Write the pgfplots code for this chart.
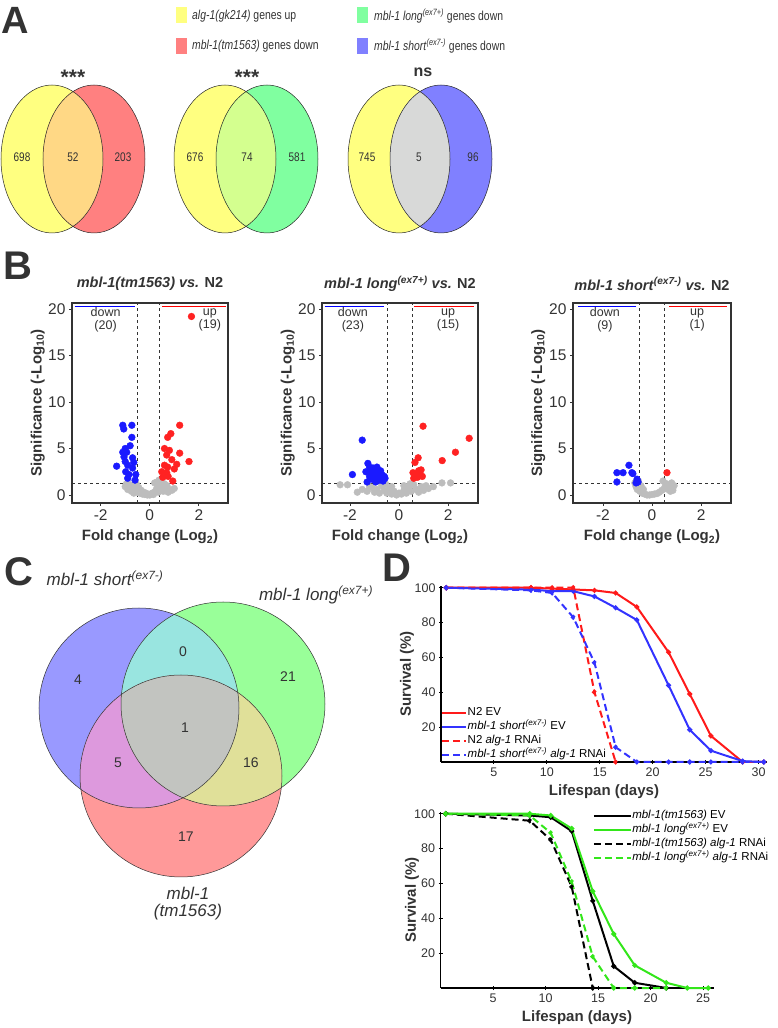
\documentclass[border=0pt]{standalone}
\usepackage{fontspec}
\setmainfont{Liberation Sans}
\newfontfamily\narrow[FakeStretch=0.8]{Liberation Sans}
\usepackage{pgfplots}
\pgfplotsset{compat=1.18}

\definecolor{vyel}{HTML}{FFFF80}
\definecolor{vred}{HTML}{FF8080}
\definecolor{vgrn}{HTML}{80FFA0}
\definecolor{vblu}{HTML}{8080FF}
\definecolor{lensyr}{HTML}{FFD885}
\definecolor{lensyg}{HTML}{D4FF8F}
\definecolor{lensyb}{HTML}{D8D9D8}
\definecolor{cblu}{HTML}{9999FF}
\definecolor{cgrn}{HTML}{99FF99}
\definecolor{cred}{HTML}{FF9999}
\definecolor{cbg}{HTML}{99E5E0}
\definecolor{cbr}{HTML}{DD99DD}
\definecolor{cgr}{HTML}{E0E099}
\definecolor{call}{HTML}{C2C4C0}
\definecolor{ptblue}{HTML}{1A1AFF}
\definecolor{ptred}{HTML}{FF2222}
\definecolor{ptgray}{HTML}{BDBDBD}
\definecolor{txt}{HTML}{333333}
\definecolor{lred}{HTML}{FF1A1A}
\definecolor{lblue}{HTML}{3333FF}
\definecolor{lgreen}{HTML}{33E61A}

\newcommand{\fs}[1]{\fontsize{#1}{#1}\selectfont}
\newcommand{\ex}[1]{\textsuperscript{\textit{#1}}}

% two-set venn of panel A: yellow at #1, other set at #2
\newcommand{\vennpair}[4]{%
  \fill[vyel] (axis cs:#1,869) ellipse [x radius=51pt, y radius=74pt];
  \fill[#3] (axis cs:#2,869) ellipse [x radius=51pt, y radius=74pt];
  \begin{scope}
    \clip (axis cs:#1,869) ellipse [x radius=51pt, y radius=74pt];
    \fill[#4] (axis cs:#2,869) ellipse [x radius=51pt, y radius=74pt];
  \end{scope}
  \draw[black!85, line width=0.5pt] (axis cs:#1,869) ellipse [x radius=51pt, y radius=74pt];
  \draw[black!85, line width=0.5pt] (axis cs:#2,869) ellipse [x radius=51pt, y radius=74pt];
}

\pgfplotsset{
  volcano/.style={
    scale only axis, height=200pt, anchor=south west,
    ymin=-0.86, ymax=20.65,
    xtick={-2,0,2}, ytick={0,5,10,15,20},
    xtick pos=bottom, ytick pos=left, tick align=outside,
    major tick length=3pt,
    axis line style={txt, line width=1.2pt},
    tick style={txt, line width=0.8pt},
    ticklabel style={font=\fs{15.5}, text=txt},
    /pgf/number format/assume math mode=true,
    xlabel={Fold change (Log\textsubscript{2})},
    ylabel={Significance (-Log\textsubscript{10})},
    label style={font=\bfseries\fs{15}, text=txt},
    xlabel style={at={(axis description cs:0.5,-0.17)}, anchor=center},
    ylabel style={at={(axis description cs:-0.22,0.5)}, anchor=center},
    title style={at={(axis description cs:0.5,1.065)}, anchor=center, font=\bfseries\fs{14.5}, text=txt},
    clip=false,
  },
  surv/.style={
    scale only axis, anchor=south west, height=176pt,
    axis lines=left, axis line style={-, black, line width=1.6pt},
    xmin=0, ymin=0, ymax=101,
    ytick={20,40,...,100}, tick align=center, major tick length=4pt,
    tick style={black, line width=1pt},
    ticklabel style={font=\fs{12.5}, text=txt},
    /pgf/number format/assume math mode=true,
    xlabel={Lifespan (days)}, ylabel={Survival (\%)},
    label style={font=\bfseries\fs{15}, text=txt},
    xlabel style={at={(axis description cs:0.5,-0.17)}, anchor=center},
    ylabel style={at={(axis description cs:-0.104,0.5)}, anchor=center},
    legend style={draw=none, fill=none, font=\fs{11.5}, inner sep=0pt, row sep=2.5pt,
      nodes={inner sep=0.5pt, anchor=west, text height=8pt, text depth=2.5pt}},
    legend cell align=left,
    mark size=1.4pt,
    clip=false,
  },
  gpt/.style={only marks, mark=*, mark size=3.4pt, ptgray, mark options={draw=none}},
  bpt/.style={only marks, mark=*, mark size=3.4pt, ptblue, mark options={draw=none}},
  rpt/.style={only marks, mark=*, mark size=3.4pt, ptred, mark options={draw=none}},
  ln/.style={line width=2pt, mark=*},
  dsh/.style={line width=2pt, mark=*, dash pattern=on 7pt off 4pt},
}

\begin{document}
\begin{tikzpicture}
\path[use as bounding box] (0pt,0pt) rectangle (777pt,1028pt);

% ---------- overlay axis: venn diagrams, panel letters, legend of A ----------
\begin{axis}[at={(0pt,0pt)}, anchor=south west, scale only axis,
  width=777pt, height=1028pt, xmin=0, xmax=777, ymin=0, ymax=1028,
  hide axis, clip=false]

\node[font=\bfseries\fs{38}, text=txt] at (axis cs:15,1008) {A};
\node[font=\bfseries\fs{40}, text=txt] at (axis cs:18,762) {B};
\node[font=\bfseries\fs{40}, text=txt] at (axis cs:19,456) {C};
\node[font=\bfseries\fs{40}, text=txt] at (axis cs:397,460) {D};

% legend of A
\fill[vyel] (axis cs:176,1005) rectangle (axis cs:187,1021);
\fill[vred] (axis cs:176,974) rectangle (axis cs:187,990);
\fill[vgrn] (axis cs:357,1005) rectangle (axis cs:368,1021);
\fill[vblu] (axis cs:357,974) rectangle (axis cs:368,990);
\node[anchor=west, font=\narrow\fs{13}, text=txt, inner sep=0pt] at (axis cs:192,1012) {\textit{alg-1(gk214)} genes up};
\node[anchor=west, font=\narrow\fs{13}, text=txt, inner sep=0pt] at (axis cs:192,982) {\textit{mbl-1(tm1563)} genes down};
\node[anchor=west, font=\narrow\fs{13}, text=txt, inner sep=0pt] at (axis cs:374,1012) {\textit{mbl-1 long}\ex{(ex7+)} genes down};
\node[anchor=west, font=\narrow\fs{13}, text=txt, inner sep=0pt] at (axis cs:374,982) {\textit{mbl-1 short}\ex{(ex7-)} genes down};

% venns of A
\vennpair{52}{94}{vred}{lensyr}
\vennpair{225}{267}{vgrn}{lensyg}
\vennpair{399}{441}{vblu}{lensyb}

\node[font=\narrow\fs{12.5}, text=txt] at (axis cs:22,871) {698};
\node[font=\narrow\fs{12.5}, text=txt] at (axis cs:73,871) {52};
\node[font=\narrow\fs{12.5}, text=txt] at (axis cs:123,871) {203};
\node[font=\narrow\fs{12.5}, text=txt] at (axis cs:195,871) {676};
\node[font=\narrow\fs{12.5}, text=txt] at (axis cs:247,871) {74};
\node[font=\narrow\fs{12.5}, text=txt] at (axis cs:297,871) {581};
\node[font=\narrow\fs{12.5}, text=txt] at (axis cs:367,871) {745};
\node[font=\narrow\fs{12.5}, text=txt] at (axis cs:419,871) {5};
\node[font=\narrow\fs{12.5}, text=txt] at (axis cs:473,871) {96};
\node[font=\bfseries\fs{21}, text=txt] at (axis cs:73,951) {***};
\node[font=\bfseries\fs{21}, text=txt] at (axis cs:247,951) {***};
\node[font=\bfseries\fs{16}, text=txt] at (axis cs:423,956) {ns};

% venn of C
\fill[cblu] (axis cs:139,320) circle [radius=100pt];
\fill[cgrn] (axis cs:223,324) circle [radius=102pt];
\fill[cred] (axis cs:181,252) circle [radius=101pt];
\begin{scope}
  \clip (axis cs:139,320) circle [radius=100pt];
  \fill[cbg] (axis cs:223,324) circle [radius=102pt];
  \fill[cbr] (axis cs:181,252) circle [radius=101pt];
\end{scope}
\begin{scope}
  \clip (axis cs:223,324) circle [radius=102pt];
  \fill[cgr] (axis cs:181,252) circle [radius=101pt];
\end{scope}
\begin{scope}
  \clip (axis cs:139,320) circle [radius=100pt];
  \clip (axis cs:223,324) circle [radius=102pt];
  \fill[call] (axis cs:181,252) circle [radius=101pt];
\end{scope}
\draw[txt, line width=0.5pt] (axis cs:139,320) circle [radius=100pt];
\draw[txt, line width=0.5pt] (axis cs:223,324) circle [radius=102pt];
\draw[txt, line width=0.5pt] (axis cs:181,252) circle [radius=101pt];

\node[font=\fs{14}, text=txt] at (axis cs:78,348) {4};
\node[font=\fs{14}, text=txt] at (axis cs:183,376) {0};
\node[font=\fs{14}, text=txt] at (axis cs:288,351) {21};
\node[font=\fs{14}, text=txt] at (axis cs:185,300) {1};
\node[font=\fs{14}, text=txt] at (axis cs:118,265) {5};
\node[font=\fs{14}, text=txt] at (axis cs:251,265) {16};
\node[font=\fs{14}, text=txt] at (axis cs:186,191) {17};
\node[font=\itshape\fs{17}, text=txt] at (axis cs:105,450) {mbl-1 short\textsuperscript{(ex7-)}};
\node[font=\itshape\fs{17}, text=txt] at (axis cs:316,433) {mbl-1 long\textsuperscript{(ex7+)}};
\node[font=\itshape\fs{17}, text=txt, align=center] at (axis cs:188,124) {mbl-1\\(tm1563)};
\end{axis}

% ---------- B: volcano plots ----------
\begin{axis}[volcano, at={(72pt,525pt)}, width=156pt, xmin=-3.17, xmax=3.19,
  title={\textit{mbl-1(tm1563) vs.} N2}]
\addplot[gpt] coordinates {
 (-1.0,0.9)(-0.95,1.2)(-0.9,0.6)(-0.8,1.1)(-0.75,0.4)(-0.7,0.9)(-0.6,0.5)(-0.55,1.2)
 (-0.5,0.3)(-0.45,0.8)(-0.4,0.2)(-0.35,0.5)(-0.3,0.1)(-0.25,0.3)(-0.2,0.05)(-0.15,0.2)
 (-0.1,0.0)(0,0.0)(0.05,0.1)(0.1,0.2)(0.15,0.05)(0.2,0.3)(0.25,0.5)(0.3,0.8)(0.3,1.4)
 (0.35,0.3)(0.4,1.1)(0.45,0.6)(0.5,0.9)(0.55,0.4)(0.6,1.2)(0.65,0.7)(0.7,1.0)(0.8,0.6)
 (0.9,0.5)(1.0,0.7)(0.2,1.3)(0.38,1.6)(-0.65,0.2)(0.75,0.3)
};
\addplot[bpt] coordinates {
 (-1.1,7.5)(-1.06,7.1)(-0.73,7.5)(-0.73,6.2)(-1.35,3.1)(-0.94,4.6)(-1.1,4.6)(-0.7,4.0)
 (-1.0,3.6)(-0.9,3.2)(-0.7,2.9)(-0.98,2.5)(-0.57,2.2)(-0.9,1.8)(-0.6,1.6)(-0.8,5.3)
 (-1.0,5.0)(-0.65,3.5)(-0.85,2.2)(-1.05,4.1)
};
\addplot[rpt] coordinates {
 (1.7,19.2)(1.22,7.5)(0.86,6.6)(0.73,6.2)(1.22,4.5)(0.69,4.3)(1.6,3.6)(0.6,3.2)(0.73,3.0)
 (0.49,2.5)(0.69,2.4)(0.94,1.5)(0.53,1.9)(0.9,3.8)(0.8,4.8)(1.0,2.8)(0.6,5.0)(1.1,3.3)(0.75,2.0)
};
\draw[txt, dash pattern=on 3pt off 3pt, line width=0.7pt] (axis cs:-0.5,-0.86) -- (axis cs:-0.5,20.65);
\draw[txt, dash pattern=on 3pt off 3pt, line width=0.7pt] (axis cs:0.4,-0.86) -- (axis cs:0.4,20.65);
\draw[txt, dash pattern=on 3pt off 3pt, line width=0.7pt] (axis cs:-3.17,1.3) -- (axis cs:3.19,1.3);
\draw[blue, line width=1.4pt] (axis cs:-3.05,20.3) -- (axis cs:-0.6,20.3);
\draw[red, line width=1.4pt] (axis cs:0.5,20.3) -- (axis cs:3.1,20.3);
\node[font=\fs{12.5}, text=txt, align=center] at (axis cs:-1.8,18.85) {down\\(20)};
\node[font=\fs{12.5}, text=txt, align=center] at (axis cs:2.45,18.85) {up\\(19)};
\end{axis}

\begin{axis}[volcano, at={(322pt,525pt)}, width=156pt, xmin=-3.14, xmax=3.22,
  title={\textit{mbl-1 long}\ex{(ex7+)} \textit{vs.} N2}]
\addplot[gpt] coordinates {
 (-2.4,1.1)(-2.1,1.1)(-1.7,0.3)(-1.5,0.6)(-1.3,0.4)(-1.1,0.8)(-1.0,0.3)(-0.9,0.6)(-0.8,0.2)
 (-0.7,1.0)(-0.6,0.5)(-0.5,0.2)(-0.4,0.7)(-0.3,0.1)(-0.2,0.4)(-0.1,0.0)(0,0.2)(0.1,0.1)
 (0.2,0.5)(0.3,0.2)(0.4,0.8)(0.5,0.4)(0.6,1.1)(0.7,0.6)(0.8,0.3)(0.9,0.9)(1.0,0.5)(1.2,0.7)
 (1.4,0.9)(1.75,1.3)(2.1,1.3)(1.1,1.0)(0.45,1.2)(-0.55,1.2)(-1.2,0.9)(-0.3,0.9)(0.2,1.0)
};
\addplot[bpt] coordinates {
 (-1.5,5.9)(-1.9,2.2)(-1.27,3.4)(-1.06,2.9)(-0.86,2.4)(-1.3,1.4)(-0.57,1.8)(-0.98,1.8)
 (-0.7,2.2)(-1.15,2.6)(-1.2,2.0)(-0.9,3.0)(-1.0,2.2)(-0.8,1.6)(-0.65,1.5)(-1.1,1.7)
 (-0.75,2.6)(-1.35,2.5)(-0.95,1.4)(-0.6,2.0)(-1.2,3.0)(-0.85,1.9)(-1.05,2.4)
};
\addplot[rpt] coordinates {
 (0.98,7.4)(2.86,6.1)(2.3,4.6)(1.76,3.7)(0.78,4.0)(0.65,3.5)(0.57,2.4)(0.7,2.2)
 (0.85,2.3)(0.95,2.0)(0.65,2.0)(0.8,2.6)(0.6,1.8)(0.9,2.7)(0.75,1.9)
};
\draw[txt, dash pattern=on 3pt off 3pt, line width=0.7pt] (axis cs:-0.47,-0.86) -- (axis cs:-0.47,20.65);
\draw[txt, dash pattern=on 3pt off 3pt, line width=0.7pt] (axis cs:0.53,-0.86) -- (axis cs:0.53,20.65);
\draw[txt, dash pattern=on 3pt off 3pt, line width=0.7pt] (axis cs:-3.14,1.3) -- (axis cs:3.22,1.3);
\draw[blue, line width=1.4pt] (axis cs:-3.02,20.3) -- (axis cs:-0.62,20.3);
\draw[red, line width=1.4pt] (axis cs:0.62,20.3) -- (axis cs:3.07,20.3);
\node[font=\fs{12.5}, text=txt, align=center] at (axis cs:-1.88,18.85) {down\\(23)};
\node[font=\fs{12.5}, text=txt, align=center] at (axis cs:2.0,18.85) {up\\(15)};
\end{axis}

\begin{axis}[volcano, at={(573pt,525pt)}, width=158pt, xmin=-3.22, xmax=3.22,
  title={\textit{mbl-1 short}\ex{(ex7-)} \textit{vs.} N2}]
\addplot[gpt] coordinates {
 (-0.7,1.3)(-0.65,0.9)(-0.6,0.6)(-0.5,0.4)(-0.45,1.0)(-0.4,0.2)(-0.3,0.1)(-0.2,0.0)
 (-0.1,0.0)(0,0.05)(0.1,0.1)(0.2,0.15)(0.3,0.3)(0.4,0.5)(0.5,0.7)(0.55,1.0)(0.6,1.2)
 (0.7,0.9)(0.8,1.3)(0.85,0.5)(0.9,1.0)(0.75,0.4)(-0.55,1.5)(0.45,1.5)(-0.35,0.6)(0.65,0.6)
};
\addplot[bpt] coordinates {
 (-0.94,3.2)(-1.43,2.4)(-1.18,2.4)(-0.82,2.4)(-0.78,2.3)(-1.43,1.4)(-0.61,1.7)(-0.65,1.3)(-0.57,1.4)
};
\addplot[rpt] coordinates {(0.61,2.4)};
\draw[txt, dash pattern=on 3pt off 3pt, line width=0.7pt] (axis cs:-0.5,-0.86) -- (axis cs:-0.5,20.65);
\draw[txt, dash pattern=on 3pt off 3pt, line width=0.7pt] (axis cs:0.5,-0.86) -- (axis cs:0.5,20.65);
\draw[txt, dash pattern=on 3pt off 3pt, line width=0.7pt] (axis cs:-3.22,1.3) -- (axis cs:3.22,1.3);
\draw[blue, line width=1.4pt] (axis cs:-3.0,20.3) -- (axis cs:-0.65,20.3);
\draw[red, line width=1.4pt] (axis cs:0.69,20.3) -- (axis cs:3.06,20.3);
\node[font=\fs{12.5}, text=txt, align=center] at (axis cs:-1.92,18.85) {down\\(9)};
\node[font=\fs{12.5}, text=txt, align=center] at (axis cs:1.84,18.85) {up\\(1)};
\end{axis}

% ---------- D: survival curves ----------
\begin{axis}[surv, at={(441pt,266pt)}, width=326pt, xmax=30.8, xtick={5,10,...,30},
  legend style={at={(axis description cs:0,0.005)}, anchor=south west},
  legend image code/.code={\draw[#1, mark=none] (0pt,0pt) -- (24pt,0pt);}]
\addplot[ln, lred] coordinates {
 (0.5,100)(8.5,100)(10.5,99.5)(12.5,99)(14.5,98.5)(16.5,97)(18.5,89)(21.5,63)(23.5,39)(25.5,15)(28.5,0)(30.5,0)};
\addlegendentry{N2 EV}
\addplot[ln, lblue] coordinates {
 (0.5,100)(8.5,99)(10.5,98)(12.5,98)(14.5,95)(16.5,88.5)(18.5,81.5)(21.5,44)(23.5,18.5)(25.5,6.5)(28.5,0.5)(30.5,0)};
\addlegendentry{\textit{mbl-1 short}\ex{(ex7-)} EV}
\addplot[dsh, lred] coordinates {
 (0.5,100)(8.5,100)(10.5,100)(12.5,100)(14.5,40)(16.5,0)};
\addlegendentry{N2 \textit{alg-1} RNAi}
\addplot[dsh, lblue] coordinates {
 (0.5,100)(8.5,98.5)(10.5,97)(12.5,83)(14.5,57)(16.5,8.5)(18.5,0)(21.5,0)(23.5,0)(25.5,0)(28.5,0)(30.5,0)};
\addlegendentry{\textit{mbl-1 short}\ex{(ex7-)} \textit{alg-1} RNAi}
\end{axis}

\begin{axis}[surv, at={(440.5pt,40pt)}, width=273pt, xmax=26, xtick={5,10,...,25},
  legend style={at={(axis description cs:0.557,1.012)}, anchor=north west},
  legend image code/.code={\draw[#1, mark=none] (0pt,0pt) -- (37pt,0pt);}]
\addplot[ln, black] coordinates {
 (0.5,100)(8.5,99)(10.5,98)(12.5,90)(14.5,50)(16.5,12.5)(18.5,3)(21.5,0)};
\addlegendentry{\textit{mbl-1(tm1563)} EV}
\addplot[ln, lgreen] coordinates {
 (0.5,100)(8.5,100)(10.5,99)(12.5,91.5)(14.5,55.5)(16.5,31)(18.5,13)(21.5,3)(23.5,0)(25.5,0)};
\addlegendentry{\textit{mbl-1 long}\ex{(ex7+)} EV}
\addplot[dsh, black] coordinates {
 (0.5,100)(8.5,96)(10.5,85)(12.5,58)(14.5,0)};
\addlegendentry{\textit{mbl-1(tm1563) alg-1} RNAi}
\addplot[dsh, lgreen] coordinates {
 (0.5,100)(8.5,99)(10.5,89)(12.5,61)(14.5,18)(16.5,0)(18.5,0)(21.5,0)};
\addlegendentry{\textit{mbl-1 long}\ex{(ex7+)} \textit{alg-1} RNAi}
\end{axis}
\end{tikzpicture}
\end{document}
